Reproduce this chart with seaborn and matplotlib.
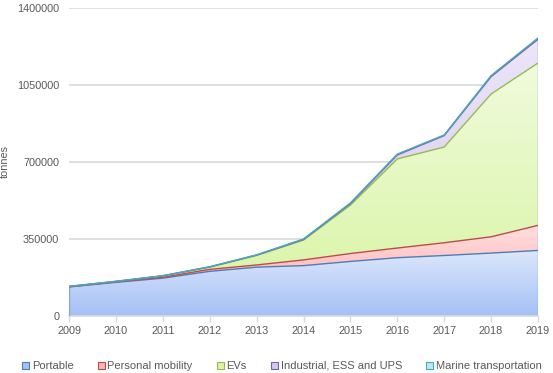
import numpy as np
import pandas as pd
import matplotlib
matplotlib.use("Agg")
import matplotlib.pyplot as plt
import seaborn as sns
from matplotlib.colors import LinearSegmentedColormap
from matplotlib.patches import Patch

years = [2009, 2010, 2011, 2012, 2013, 2014, 2015, 2016, 2017, 2018, 2019]
portable = [132000, 153000, 172000, 203000, 222000, 229000, 248000, 265000, 275000, 286000, 298000]
personal_mobility = [1000, 2000, 4000, 9000, 10000, 26000, 36000, 44000, 58000, 74000, 114000]
evs = [1000, 2000, 6000, 10000, 43000, 90000, 220000, 405000, 435000, 649000, 738000]
industrial = [0, 0, 1000, 1000, 2000, 3000, 7000, 18000, 52000, 79000, 108000]
marine = [1000, 1000, 0, 1000, 1000, 2000, 3000, 4000, 3000, 5000, 6000]

series_names = ["Portable", "Personal mobility", "EVs", "Industrial, ESS and UPS", "Marine transportation"]
y_ticks = [0, 350000, 700000, 1050000, 1400000]

df = pd.DataFrame({
    "Portable": portable,
    "Personal mobility": personal_mobility,
    "EVs": evs,
    "Industrial, ESS and UPS": industrial,
    "Marine transportation": marine,
}, index=years)

edge_colors = ["#4a7ebb", "#be4b48", "#98b954", "#7d60a0", "#46aac5"]
grad_colors = [
    ("#a4c0f6", "#dde7fb"),
    ("#ffb3b3", "#ffe0e0"),
    ("#daf5a8", "#f0fbdc"),
    ("#d4c8ee", "#ece6f8"),
    ("#bfe8f3", "#e4f5fa"),
]

sns.set_theme(style="white")
plt.rcParams["font.family"] = ["Liberation Sans", "DejaVu Sans"]

fig = plt.figure(figsize=(5.53, 3.73), dpi=100)
ax = fig.add_axes([69 / 553, 1 - 316 / 373, (538 - 69) / 553, (316 - 8) / 373])

cum = df.cumsum(axis=1)
x = np.array(years, dtype=float)
lower = np.zeros(len(years))
for i, name in enumerate(series_names):
    upper = cum[name].values.astype(float)
    poly = ax.fill_between(x, lower, upper, facecolor="none", edgecolor="none", zorder=1)
    cmap = LinearSegmentedColormap.from_list("g%d" % i, list(grad_colors[i]))
    ymin, ymax = lower.min(), upper.max()
    im = ax.imshow(np.linspace(0, 1, 256).reshape(-1, 1), cmap=cmap, aspect="auto",
                   extent=[x[0], x[-1], ymin, ymax], origin="lower", zorder=1 + i * 0.01,
                   interpolation="bilinear")
    im.set_clip_path(poly.get_paths()[0], transform=ax.transData)
    lower = upper

# edge lines
for i, name in enumerate(series_names):
    ax.plot(x, cum[name].values, color=edge_colors[i], lw=1.0, zorder=3 + i)
ax.plot([x[-1], x[-1]], [0, cum[series_names[-1]].values[-1]], color="#8aa6d8", lw=1.0, zorder=3)
ax.plot([x[0], x[0]], [0, cum[series_names[-1]].values[0]], color="#8aa6d8", lw=1.0, zorder=3)

ax.set_xlim(2009, 2019)
ax.set_ylim(0, 1400000)
ax.set_xticks(years)
ax.set_xticklabels([str(y) for y in years])
ax.set_yticks(y_ticks)
ax.set_yticklabels([str(v) for v in y_ticks])
ax.yaxis.grid(True, color="#d9d9d9", lw=1.2, zorder=0)
ax.xaxis.grid(False)
ax.set_axisbelow(True)
for s in ["top", "right", "left"]:
    ax.spines[s].set_visible(False)
ax.spines["bottom"].set_color("#d9d9d9")
ax.spines["bottom"].set_linewidth(1.2)
ax.tick_params(axis="x", which="both", bottom=True, length=4, color="#d9d9d9", width=1,
               labelsize=7.8, labelcolor="#595959", pad=3)
ax.tick_params(axis="y", left=False, length=0, labelsize=7.8, labelcolor="#595959", pad=7)
ax.set_ylabel("tonnes", fontsize=7.8, color="#595959", labelpad=4)
ax.yaxis.set_label_coords(-0.127, 0.5)

handles = [Patch(facecolor=grad_colors[i][0], edgecolor=edge_colors[i], lw=0.8, label=n)
           for i, n in enumerate(series_names)]
fig.legend(handles=handles, loc="center", bbox_to_anchor=(0.51, 1 - 366 / 373), ncol=5,
           frameon=False, fontsize=8, handlelength=0.6, handleheight=0.6, handletextpad=0.25,
           columnspacing=2.2, labelcolor="#595959")

fig.savefig("out.png", dpi=100)
